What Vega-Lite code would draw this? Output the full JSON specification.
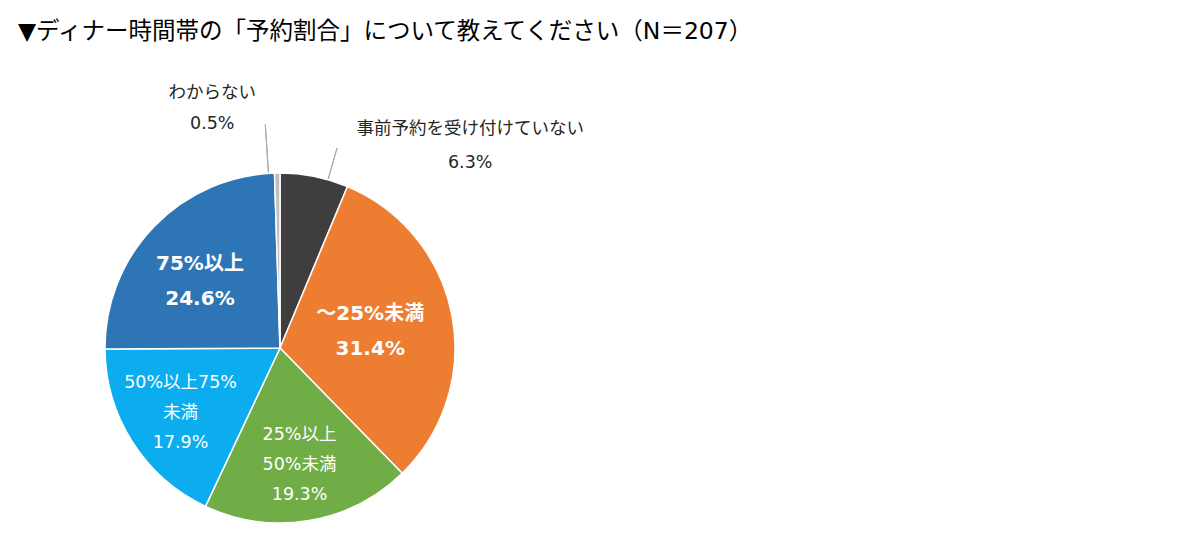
{
  "$schema": "https://vega.github.io/schema/vega-lite/v6.json",
  "autosize": "none",
  "width": 350,
  "height": 350,
  "padding": {"left": 105, "top": 173, "right": 745, "bottom": 27},
  "background": "white",
  "title": {
    "text": "▼ディナー時間帯の「予約割合」について教えてください（N＝207）",
    "anchor": "start",
    "frame": "group",
    "offset": 41,
    "dx": -87,
    "font": "DejaVu Sans, Noto Sans CJK JP",
    "fontSize": 23.5,
    "fontWeight": "normal",
    "color": "#000000"
  },
  "data": {
    "values": [
      {"idx": 1, "category": "事前予約を受け付けていない", "value": 6.3, "label": "事前予約を受け付けていない\n6.3%"},
      {"idx": 2, "category": "～25%未満", "value": 31.4, "label": "～25%未満\n31.4%"},
      {"idx": 3, "category": "25%以上50%未満", "value": 19.3, "label": "25%以上\n50%未満\n19.3%"},
      {"idx": 4, "category": "50%以上75%未満", "value": 17.9, "label": "50%以上75%\n未満\n17.9%"},
      {"idx": 5, "category": "75%以上", "value": 24.6, "label": "75%以上\n24.6%"},
      {"idx": 6, "category": "わからない", "value": 0.5, "label": "わからない\n0.5%"}
    ]
  },
  "encoding": {
    "theta": {"field": "value", "type": "quantitative", "stack": true},
    "order": {"field": "idx", "type": "quantitative"}
  },
  "layer": [
    {
      "mark": {"type": "arc", "outerRadius": 175, "stroke": "white", "strokeWidth": 1.5},
      "encoding": {
        "color": {
          "field": "category",
          "type": "nominal",
          "legend": null,
          "scale": {
            "domain": ["事前予約を受け付けていない", "～25%未満", "25%以上50%未満", "50%以上75%未満", "75%以上", "わからない"],
            "range": ["#403D3F", "#ED7D31", "#70AD47", "#0BADEF", "#2E75B6", "#BFBFBF"]
          }
        }
      }
    },
    {
      "mark": {"type": "arc", "innerRadius": 176, "outerRadius": 208, "padAngle": 1, "thetaOffset": 0.08, "theta2Offset": 0.08, "filled": false, "stroke": "#A6A6A6", "strokeWidth": 1},
      "encoding": {
        "strokeOpacity": {"condition": {"test": "datum.idx == 1", "value": 1}, "value": 0}
      }
    },
    {
      "mark": {"type": "arc", "innerRadius": 176, "outerRadius": 224, "padAngle": 1, "thetaOffset": -0.05, "theta2Offset": -0.05, "filled": false, "stroke": "#A6A6A6", "strokeWidth": 1},
      "encoding": {
        "strokeOpacity": {"condition": {"test": "datum.idx == 6", "value": 1}, "value": 0}
      }
    },
    {
      "mark": {"type": "text", "radius": 100, "dx": -8, "dy": -15, "font": "DejaVu Sans, Noto Sans CJK JP", "fontSize": 20, "fontWeight": "bold", "color": "white", "lineBreak": "\n", "lineHeight": 35},
      "encoding": {
        "text": {"condition": {"test": "datum.idx == 2 || datum.idx == 5", "field": "label"}, "value": ""}
      }
    },
    {
      "mark": {"type": "text", "radius": 118, "dy": -29, "font": "DejaVu Sans, Noto Sans CJK JP", "fontSize": 17.5, "color": "white", "lineBreak": "\n", "lineHeight": 30},
      "encoding": {
        "text": {"condition": {"test": "datum.idx == 3 || datum.idx == 4", "field": "label"}, "value": ""}
      }
    },
    {
      "mark": {"type": "text", "radius": 240, "dx": -64, "dy": -15, "font": "DejaVu Sans, Noto Sans CJK JP", "fontSize": 17.5, "color": "#262626", "lineBreak": "\n", "lineHeight": 31},
      "encoding": {
        "text": {"condition": {"test": "datum.idx == 6", "field": "label"}, "value": ""}
      }
    },
    {
      "mark": {"type": "text", "radius": 240, "dx": 143, "dy": 16, "font": "DejaVu Sans, Noto Sans CJK JP", "fontSize": 17.5, "color": "#262626", "lineBreak": "\n", "lineHeight": 34},
      "encoding": {
        "text": {"condition": {"test": "datum.idx == 1", "field": "label"}, "value": ""}
      }
    }
  ]
}
